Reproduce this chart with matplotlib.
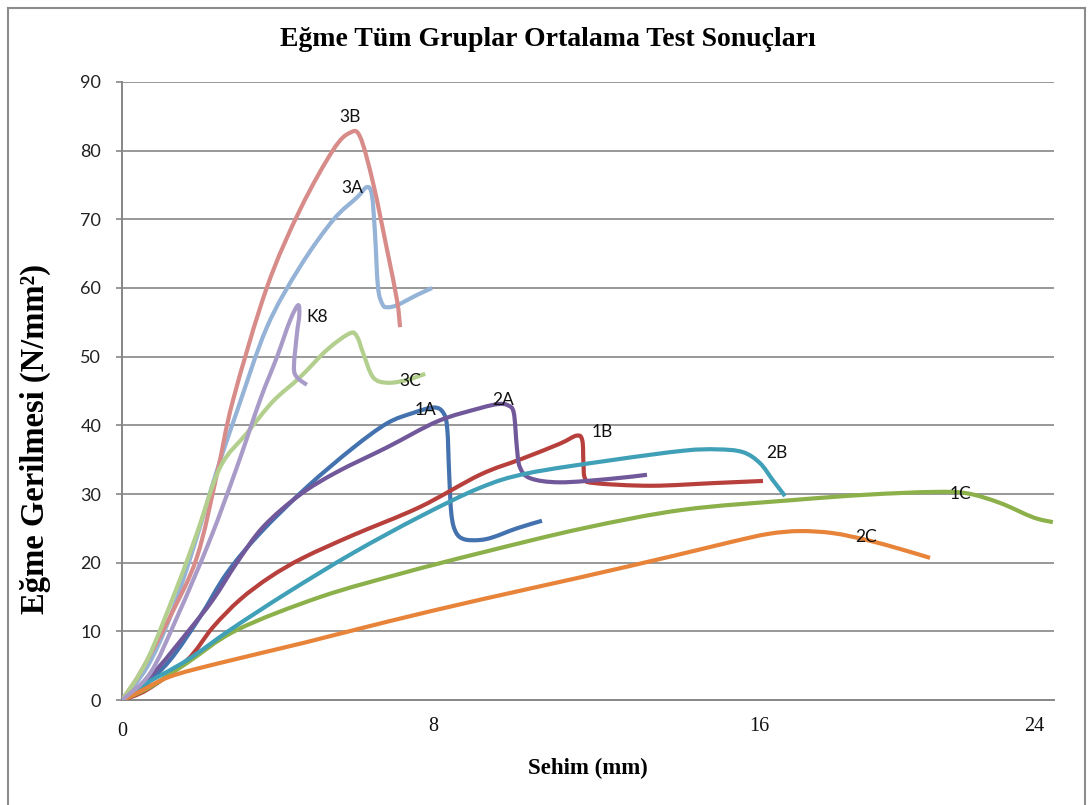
import matplotlib
matplotlib.use("Agg")
import matplotlib.pyplot as plt
from matplotlib.lines import Line2D
from matplotlib.path import Path
from matplotlib.patches import PathPatch

# ---------------- data (x: Sehim mm, y: Eğme Gerilmesi N/mm²) ----------------
x_1A = [0, 0.47, 1.26, 2.05, 2.76, 3.63, 4.86, 6.07, 6.97, 7.65, 8.2, 8.45, 8.55, 8.6, 8.66, 8.78, 9.0, 9.4, 9.75, 10.38, 11.04]
y_1A = [0, 1.5, 5.8, 12.1, 18.5, 24.3, 31.0, 36.7, 40.3, 41.8, 42.6, 41.8, 39.5, 33.0, 27.0, 24.4, 23.4, 23.3, 23.7, 25.0, 26.1]

x_1B = [0, 0.66, 1.71, 2.39, 3.10, 3.89, 4.76, 6.07, 7.83, 9.41, 10.5, 11.5, 11.95, 12.1, 12.13, 12.17, 12.4, 13.9, 15.6, 16.85]
y_1B = [0, 1.5, 5.8, 10.6, 14.6, 17.9, 20.7, 24.0, 28.1, 32.8, 35.1, 37.3, 38.5, 37.8, 34.5, 32.3, 31.6, 31.2, 31.6, 31.9]

x_1C = [0, 0.74, 1.71, 3.02, 5.21, 7.39, 9.41, 12.12, 14.75, 17.6, 19.58, 21.32, 22.21, 23.08, 23.95, 24.47]
y_1C = [0, 1.9, 5.4, 10.2, 15.0, 18.5, 21.4, 25.0, 27.7, 29.1, 29.9, 30.3, 30.1, 28.7, 26.6, 25.9]

x_2A = [0, 0.82, 1.71, 2.39, 3.02, 3.71, 4.68, 5.65, 6.97, 8.3, 9.41, 9.9, 10.15, 10.3, 10.38, 10.46, 10.73, 11.51, 12.83, 13.80]
y_2A = [0, 3.9, 9.8, 14.6, 20.0, 25.2, 29.9, 33.2, 36.8, 40.6, 42.5, 43.1, 42.9, 41.8, 36.8, 33.9, 32.3, 31.7, 32.2, 32.8]

x_2B = [0, 0.47, 1.71, 2.84, 4.34, 6.07, 7.83, 9.41, 10.65, 12.83, 14.75, 15.64, 16.32, 16.77, 17.11, 17.43]
y_2B = [0, 1.9, 5.8, 10.2, 15.6, 21.4, 26.7, 30.9, 33.0, 34.9, 36.3, 36.5, 36.1, 34.5, 32.0, 29.7]

x_2C = [0, 0.39, 1.26, 2.58, 4.76, 6.97, 9.41, 12.0, 14.5, 16.0, 17.0, 17.82, 18.69, 19.58, 20.45, 21.24]
y_2C = [0, 1.0, 3.4, 5.4, 8.3, 11.4, 14.6, 17.8, 21.0, 23.0, 24.2, 24.6, 24.3, 23.3, 22.0, 20.7]

x_3A = [0, 0.66, 1.26, 1.87, 2.50, 3.02, 3.81, 4.68, 5.55, 6.18, 6.44, 6.57, 6.65, 6.73, 6.85, 6.97, 7.23, 7.76, 8.15]
y_3A = [0, 4.8, 12.0, 22.0, 33.5, 42.0, 54.3, 63.1, 69.9, 73.2, 74.7, 73.5, 68.0, 60.1, 57.6, 57.2, 57.5, 59.0, 60.0]

x_3B = [0, 0.47, 1.26, 1.97, 2.50, 2.92, 3.81, 4.68, 5.55, 5.99, 6.26, 6.60, 6.97, 7.23, 7.31]
y_3B = [0, 3.9, 12.1, 20.8, 33.0, 43.7, 60.1, 71.4, 80.1, 82.6, 82.0, 75.3, 65.5, 58.2, 54.3]

x_3C = [0, 0.66, 1.45, 1.97, 2.58, 3.29, 3.97, 4.68, 5.39, 5.99, 6.18, 6.34, 6.60, 6.97, 7.49, 7.97]
y_3C = [0, 5.8, 16.5, 24.3, 33.9, 38.9, 43.5, 47.0, 51.0, 53.4, 52.9, 50.5, 47.0, 46.2, 46.6, 47.5]

x_K8 = [0, 0.74, 1.45, 2.31, 3.02, 3.63, 4.07, 4.42, 4.63, 4.66, 4.60, 4.52, 4.60, 4.86]
y_K8 = [0, 3.9, 12.1, 23.3, 33.9, 43.7, 49.9, 55.3, 57.5, 56.0, 53.4, 48.5, 47.0, 45.9]

series_names = ["1A", "1B", "1C", "2A", "2B", "2C", "3A", "3B", "3C", "K8"]
series_x = [x_1A, x_1B, x_1C, x_2A, x_2B, x_2C, x_3A, x_3B, x_3C, x_K8]
series_y = [y_1A, y_1B, y_1C, y_2A, y_2B, y_2C, y_3A, y_3B, y_3C, y_K8]
series_colors = ["#4472AE", "#B7403D", "#8CB04A", "#71589A", "#3FA0B8",
                 "#E8843A", "#95B3D7", "#D88C8A", "#B3CF8E", "#A99BC8"]

# label positions for the series names (data coordinates)
label_x = [7.97, 12.62, 22.03, 10.02, 17.22, 19.56, 6.05, 5.99, 7.57, 5.13]
label_y = [42.2, 39.0, 30.0, 43.7, 36.0, 23.7, 74.6, 84.9, 46.5, 55.8]

y_ticks = [0, 10, 20, 30, 40, 50, 60, 70, 80, 90]
x_tick_labels = ["0", "8", "16", "24"]
x_tick_pos = [0, 8.18, 16.75, 23.99]

title = "Eğme Tüm Gruplar Ortalama Test Sonuçları"
xlabel = "Sehim (mm)"
ylabel = "Eğme Gerilmesi (N/mm²)"


def smooth_path(xs, ys):
    """Excel-style smoothed line: cubic Bezier segments through the points."""
    n = len(xs)
    verts = [(xs[0], ys[0])]
    codes = [Path.MOVETO]
    for i in range(n - 1):
        i0 = max(i - 1, 0)
        i3 = min(i + 2, n - 1)
        c1 = (xs[i] + (xs[i + 1] - xs[i0]) / 6.0, ys[i] + (ys[i + 1] - ys[i0]) / 6.0)
        c2 = (xs[i + 1] - (xs[i3] - xs[i]) / 6.0, ys[i + 1] - (ys[i3] - ys[i]) / 6.0)
        verts += [c1, c2, (xs[i + 1], ys[i + 1])]
        codes += [Path.CURVE4] * 3
    return Path(verts, codes)


# ---------------- figure ----------------
W, H = 1092, 805
fig = plt.figure(figsize=(W / 100, H / 100), dpi=100)
ax = fig.add_axes([122 / W, 1 - 700 / H, (1054 - 122) / W, (700 - 82) / H])

grid_c = "#868686"
for yv in y_ticks[1:]:
    ax.axhline(yv, color=grid_c, lw=1.2, zorder=1)

for xs, ys, c in zip(series_x, series_y, series_colors):
    patch = PathPatch(smooth_path(xs, ys), facecolor="none", edgecolor=c,
                      lw=3.0, joinstyle="round", capstyle="butt", zorder=3)
    patch.set_clip_path(ax.patch)
    ax.add_patch(patch)

for name, lx, ly in zip(series_names, label_x, label_y):
    ax.text(lx, ly, name, ha="center", va="center", fontsize=12.5,
            family="Lato", color="#111111", zorder=4)

ax.set_xlim(0, 24.5)
ax.set_ylim(0, 90)
ax.set_yticks(y_ticks)
ax.set_yticklabels([str(v) for v in y_ticks], family="Lato", fontsize=13,
                   color="#222222")
ax.tick_params(axis="y", length=4, width=1.2, color=grid_c, pad=11)
ax.set_xticks([])
for s in ["top", "right"]:
    ax.spines[s].set_visible(False)
for s in ["left", "bottom"]:
    ax.spines[s].set_color(grid_c)
    ax.spines[s].set_linewidth(1.4)

# x tick labels (serif, as in the reference)
for lbl, xp in zip(x_tick_labels, x_tick_pos):
    yoff = -31 if lbl == "0" else -26
    ax.annotate(lbl, xy=(xp, 0), xycoords="data", xytext=(0, yoff),
                textcoords="offset pixels", ha="center", va="center",
                family="Liberation Serif", fontsize=14.5, color="#111111")

fig.text(548 / W, 1 - 40 / H, title, ha="center", va="center",
         family="Liberation Serif", weight="bold", fontsize=20)
fig.text(588 / W, 1 - 768 / H, xlabel, ha="center", va="center",
         family="Liberation Serif", weight="bold", fontsize=16.5)
fig.text(35 / W, 1 - 439 / H, ylabel, ha="center", va="center", rotation=90,
         family="Liberation Serif", weight="bold", fontsize=23.5)

# outer chart border
bc = "#8c8c8c"
for (x0, y0, x1, y1) in [(8, 8, 1085, 8), (8, 8, 8, 805), (1085, 8, 1085, 805)]:
    fig.add_artist(Line2D([x0 / W, x1 / W], [1 - y0 / H, 1 - y1 / H],
                          transform=fig.transFigure, color=bc, lw=1.5))

fig.savefig("out.png", dpi=100)
